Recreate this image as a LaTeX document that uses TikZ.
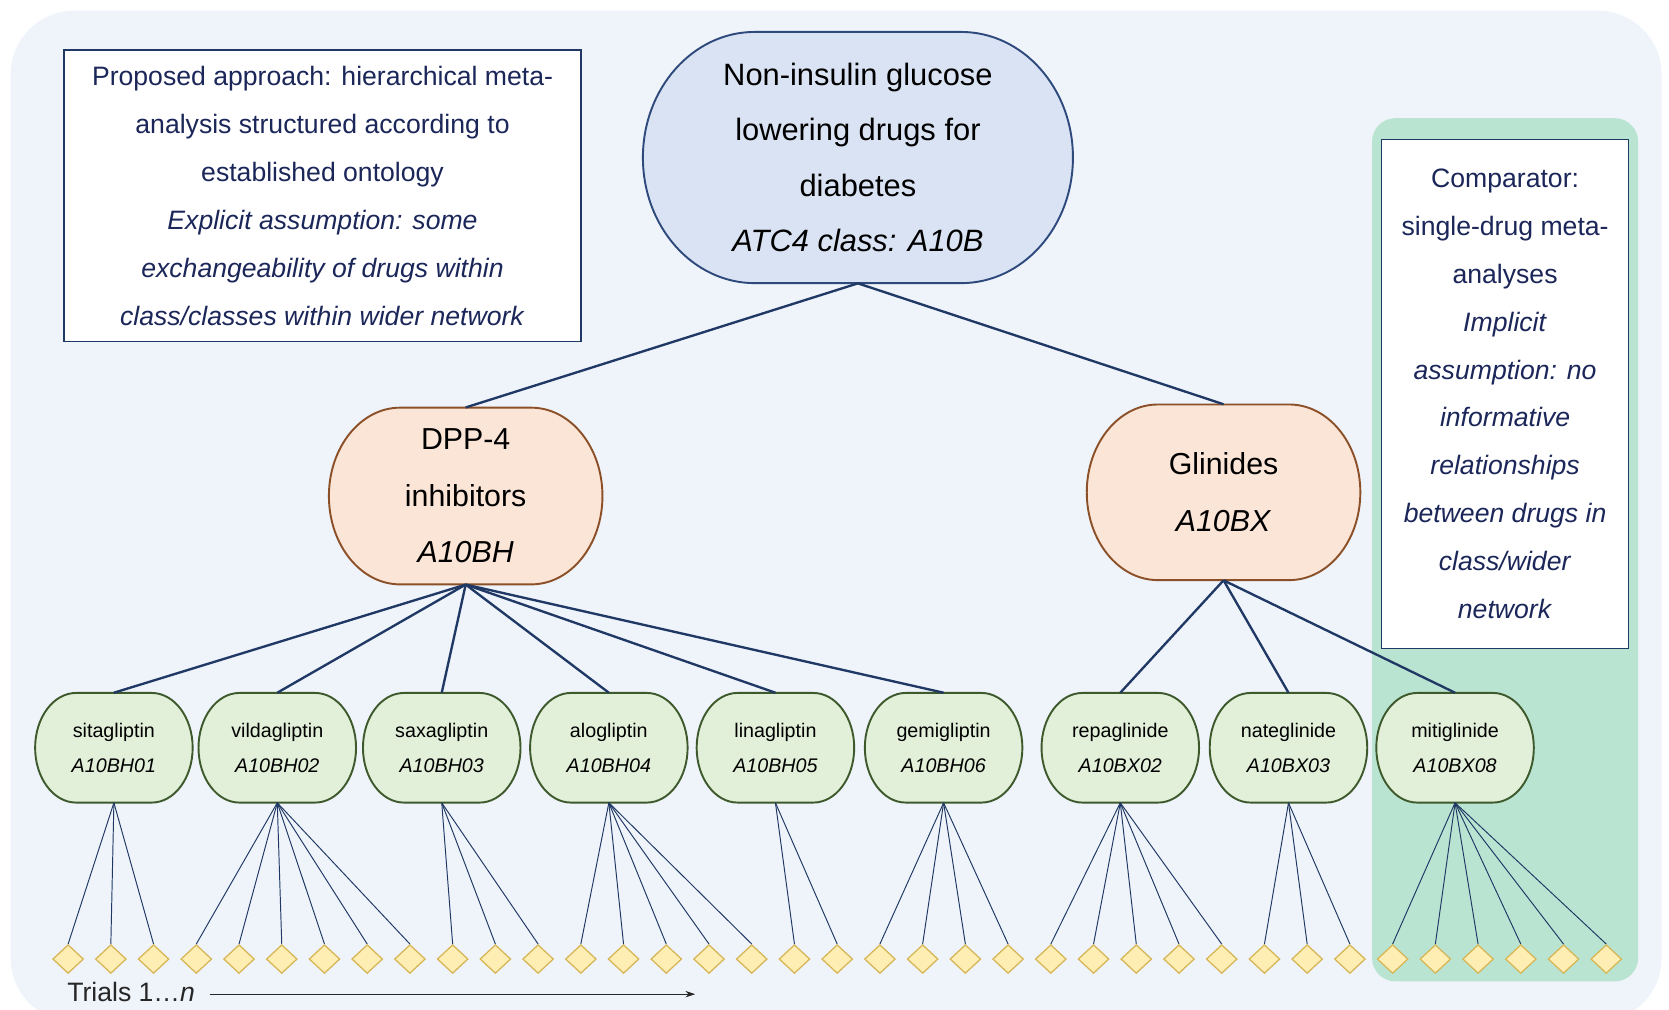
\documentclass[tikz,border=0pt]{standalone}
\usepackage{fontspec}
\setmainfont{Liberation Sans}
\usetikzlibrary{shapes.geometric,arrows.meta}

\definecolor{bgc}{RGB}{239,243,250}
\definecolor{panelc}{RGB}{186,228,210}
\definecolor{navy}{RGB}{31,56,100}
\definecolor{boxtxt}{RGB}{27,38,89}
\definecolor{topfill}{RGB}{218,227,243}
\definecolor{topdraw}{RGB}{46,74,125}
\definecolor{clsfill}{RGB}{251,229,214}
\definecolor{clsdraw}{RGB}{140,80,40}
\definecolor{drugfill}{RGB}{226,239,217}
\definecolor{drugdraw}{RGB}{62,90,45}
\definecolor{trialfill}{RGB}{255,238,180}
\definecolor{trialdraw}{RGB}{214,182,86}

\newcommand{\stadnode}[7]{%
  \pgfmathsetmacro{\sRx}{0.26*#5}%
  \pgfmathsetmacro{\sRy}{0.5*#6}%
  \pgfmathsetmacro{\sXl}{#3-#5/2+\sRx}%
  \pgfmathsetmacro{\sXr}{#3+#5/2-\sRx}%
  \pgfmathsetmacro{\sYt}{#4-#6/2}%
  \pgfmathsetmacro{\sYb}{#4+#6/2}%
  \draw[#1shape] (\sXl,\sYt) -- (\sXr,\sYt)
     arc[start angle=90,end angle=-90,x radius=\sRx pt,y radius=\sRy pt]
     -- (\sXl,\sYb)
     arc[start angle=270,end angle=90,x radius=\sRx pt,y radius=\sRy pt] -- cycle;
  \node[#1text,minimum width=#5pt,minimum height=#6pt] (#2) at (#3,#4) {#7};
}

\begin{document}
\begin{tikzpicture}[x=1pt,y=-1pt,
  topshape/.style={fill=topfill,draw=topdraw,line width=1.8pt},
  toptext/.style={align=center,inner sep=0pt,text=black,font=\fontsize{29pt}{52pt}\selectfont},
  clsshape/.style={fill=clsfill,draw=clsdraw,line width=1.8pt},
  clstext/.style={align=center,inner sep=0pt,text=black,font=\fontsize{28.5pt}{53pt}\selectfont},
  drugshape/.style={fill=drugfill,draw=drugdraw,line width=1.8pt},
  drugtext/.style={align=center,inner sep=0pt,text=black,font=\fontsize{18.5pt}{33pt}\selectfont},
  note/.style={draw=navy,line width=1.3pt,fill=white,align=center,inner sep=0pt,text=boxtxt,font=\fontsize{25pt}{45pt}\selectfont},
  panelbox/.style={fill=panelc,draw=none,rounded corners=22pt,inner sep=0pt},
  conn/.style={draw=navy,line width=2.2pt},
  trialline/.style={draw=navy,line width=0.9pt},
  trial/.style={diamond,fill=trialfill,draw=trialdraw,line width=1.2pt,inner sep=0pt,minimum width=29pt,minimum height=27pt},
  arr/.style={draw=black!85,line width=0.8pt,-{Stealth[length=9pt,width=6pt]}},
  trialtext/.style={inner sep=0pt,text=black!85,font=\fontsize{25pt}{28pt}\selectfont}
]
\useasboundingbox (0,0) rectangle (1568,948);
\fill[white] (0,0) rectangle (1568,948);
\fill[bgc,rounded corners=60pt] (10,10) rectangle (1561,960);

\node[panelbox,minimum width=250pt,minimum height=811pt] (panel) at (1414,516.5) {};

% boxes
\node[note,minimum width=486pt,minimum height=274pt] (approach) at (303,184)
 {Proposed approach: hierarchical meta-\\analysis structured according to\\established ontology\\\textit{Explicit assumption: some}\\\textit{exchangeability of drugs within}\\\textit{class/classes within wider network}};
\node[note,minimum width=232pt,minimum height=478pt] (comparator) at (1414,370)
 {Comparator:\\single-drug meta-\\analyses\\\textit{Implicit}\\\textit{assumption: no}\\\textit{informative}\\\textit{relationships}\\\textit{between drugs in}\\\textit{class/wider}\\\textit{network}};

% hierarchy nodes
\stadnode{top}{root}{806}{148}{404}{236}{Non-insulin glucose\\lowering drugs for\\diabetes\\\textit{ATC4 class: A10B}}
\stadnode{cls}{dpp}{437.5}{466}{257}{166}{DPP-4\\inhibitors\\\textit{A10BH}}
\stadnode{cls}{glin}{1149.5}{462.5}{257}{165}{Glinides\\\textit{A10BX}}

\stadnode{drug}{sita}{107}{702.5}{148}{103}{sitagliptin\\\textit{A10BH01}}
\stadnode{drug}{vilda}{260.5}{702.5}{148}{103}{vildagliptin\\\textit{A10BH02}}
\stadnode{drug}{saxa}{415}{702.5}{148}{103}{saxagliptin\\\textit{A10BH03}}
\stadnode{drug}{alo}{572}{702.5}{148}{103}{alogliptin\\\textit{A10BH04}}
\stadnode{drug}{lina}{728.5}{702.5}{148}{103}{linagliptin\\\textit{A10BH05}}
\stadnode{drug}{gemi}{886.5}{702.5}{148}{103}{gemigliptin\\\textit{A10BH06}}
\stadnode{drug}{repa}{1052.5}{702.5}{148}{103}{repaglinide\\\textit{A10BX02}}
\stadnode{drug}{nate}{1210.5}{702.5}{148}{103}{nateglinide\\\textit{A10BX03}}
\stadnode{drug}{miti}{1367}{702.5}{148}{103}{mitiglinide\\\textit{A10BX08}}

% connectors
\draw[conn] (root.south) -- (dpp.north);
\draw[conn] (root.south) -- (glin.north);
\foreach \d in {sita,vilda,saxa,alo,lina,gemi} \draw[conn] (dpp.south) -- (\d.north);
\foreach \d in {repa,nate,miti} \draw[conn] (glin.south) -- (\d.north);

% trials
\foreach \i in {1,...,37} {
  \pgfmathsetmacro{\tx}{64+(\i-1)*40.14}
  \node[trial] (t\i) at (\tx,901) {};
}
\foreach \d/\a/\b in {sita/1/3,vilda/4/9,saxa/10/12,alo/13/17,lina/18/19,gemi/20/23,repa/24/28,nate/29/31,miti/32/37}
  \foreach \k in {\a,...,\b} \draw[trialline] (\d.south) -- (t\k.north);

\node[trialtext,anchor=west] (trials) at (63,932) {Trials 1…\textit{n}};
\coordinate (arrS) at (197,934);
\coordinate (arrE) at (653,934);
\draw[arr] (arrS) -- (arrE);
\end{tikzpicture}
\end{document}
